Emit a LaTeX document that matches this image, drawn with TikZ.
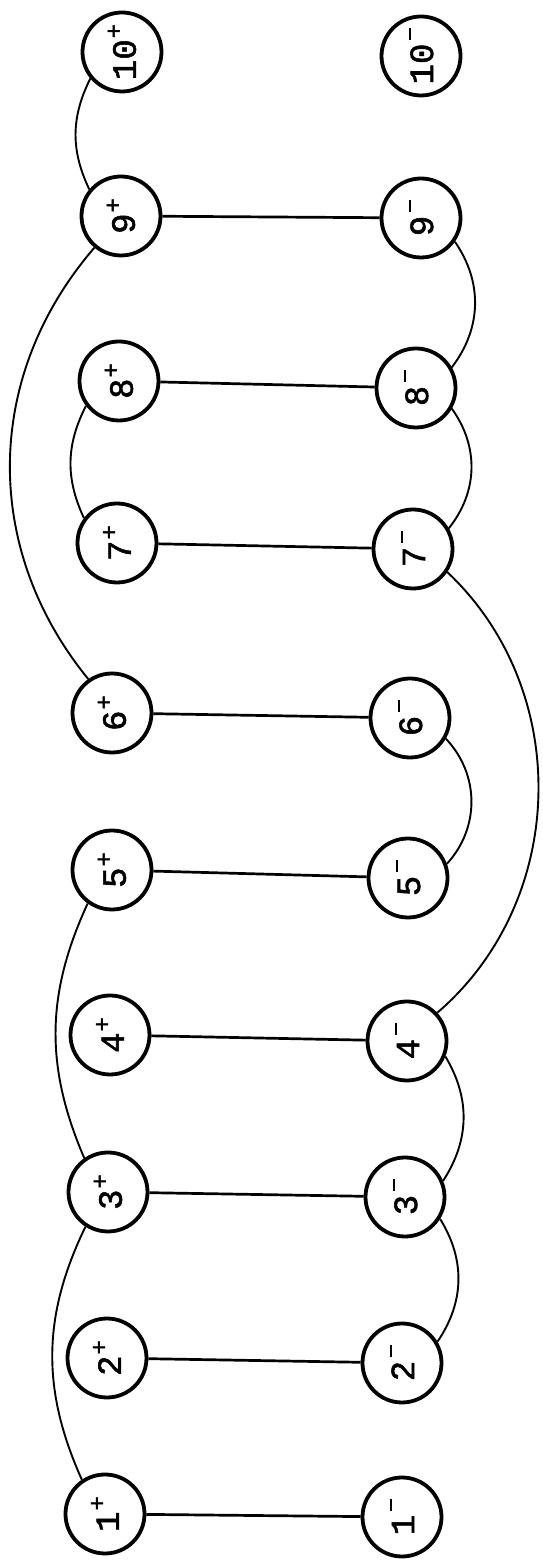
\documentclass[tikz,border=0pt]{standalone}
\usepackage{fontspec}
\newfontfamily\typefont[FakeBold=1.6]{Liberation Mono}
% digit with a raised plus or a raised dash after it, turned a quarter turn
\newcommand\plabel[1]{\rotatebox{90}{#1\kern1pt\raisebox{14pt}{\fontsize{24}{24}\selectfont +}}}
\newcommand\mlabel[1]{\rotatebox{90}{#1\kern4pt\rule[22pt]{12pt}{2.4pt}}}
\begin{document}
\begin{tikzpicture}[x=1pt,y=1pt,
  vertex/.style={circle, draw, line width=3.8pt, minimum size=79pt, inner sep=0pt,
    font=\typefont\fontsize{34}{36}\selectfont},
  rung/.style={line width=2.7pt},
  link/.style={line width=1.9pt}]
\fill[white] (0,0) rectangle (543,1564);
\useasboundingbox (0,0) rectangle (543,1564);

% upper column (+)
\node[vertex] (p10) at (122,1512) {\plabel{10}};
\node[vertex] (p9)  at (121,1348) {\plabel{9}};
\node[vertex] (p8)  at (119,1183) {\plabel{8}};
\node[vertex] (p7)  at (117,1021) {\plabel{7}};
\node[vertex] (p6)  at (112, 851) {\plabel{6}};
\node[vertex] (p5)  at (112, 694) {\plabel{5}};
\node[vertex] (p4)  at (110, 529) {\plabel{4}};
\node[vertex] (p3)  at (108, 372) {\plabel{3}};
\node[vertex] (p2)  at (107, 206) {\plabel{2}};
\node[vertex] (p1)  at (105,  50) {\plabel{1}};

% lower column (-)
\node[vertex] (m10) at (421,1508) {\mlabel{10}};
\node[vertex] (m9)  at (421,1346) {\mlabel{9}};
\node[vertex] (m8)  at (416,1176) {\mlabel{8}};
\node[vertex] (m7)  at (413,1015) {\mlabel{7}};
\node[vertex] (m6)  at (410, 846) {\mlabel{6}};
\node[vertex] (m5)  at (408, 686) {\mlabel{5}};
\node[vertex] (m4)  at (407, 523) {\mlabel{4}};
\node[vertex] (m3)  at (405, 367) {\mlabel{3}};
\node[vertex] (m2)  at (402, 201) {\mlabel{2}};
\node[vertex] (m1)  at (402,  47) {\mlabel{1}};

% rungs k+ -- k-
\foreach \k in {1,...,9}
  \draw[rung] (p\k) -- (m\k);

% arcs on the + side
\draw[link] (p10.220) to[bend right=26] (p9.140);
\draw[link] (p9.230)  to[bend right=40] (p6.125);
\draw[link] (p8.217)  to[bend right=26] (p7.143);
\draw[link] (p5.234)  to[bend right=24] (p3.125);
\draw[link] (p3.237)  to[bend right=25] (p1.124);

% arcs on the - side
\draw[link] (m9.325)  to[bend left=36] (m8.30);
\draw[link] (m8.330)  to[bend left=37] (m7.30);
\draw[link] (m7.326)  to[bend left=48] (m4.43);
\draw[link] (m6.330)  to[bend left=43] (m5.20);
\draw[link] (m4.338)  to[bend left=32] (m3.23);
\draw[link] (m3.328)  to[bend left=33] (m2.31);
\end{tikzpicture}
\end{document}
